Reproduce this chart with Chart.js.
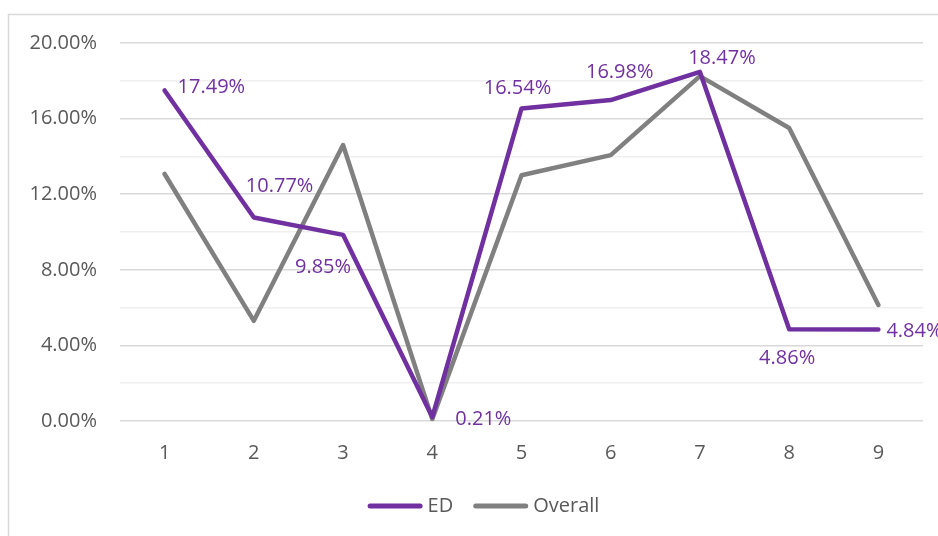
<!DOCTYPE html>
<html>
<head>
<meta charset="utf-8">
<script src="https://cdn.jsdelivr.net/npm/chart.js@4"></script>
<style>
html,body{margin:0;padding:0;background:#fff;}
#wrap{position:relative;width:938px;height:536px;}
</style>
</head>
<body>
<div id="wrap"><canvas id="c" width="938" height="536"></canvas></div>
<script>
const categories = ['1','2','3','4','5','6','7','8','9'];
const edValues = [17.49, 10.77, 9.85, 0.21, 16.54, 16.98, 18.47, 4.86, 4.84];
const overallValues = [13.07, 5.3, 14.6, 0.1, 13.0, 14.07, 18.25, 15.5, 6.14];
const seriesNames = ['ED', 'Overall'];

// label placement for the ED data labels: [dx, dy, align]
const edLabelPlacement = [
  [13, -3, 'left'], [-8, -31, 'left'], [8, 32, 'right'], [23, 2, 'left'],
  [-4, -20, 'center'], [9, -28, 'center'], [22, -14, 'center'], [-2, 29, 'center'], [8, 2, 'left']
];

const PURPLE = '#7030a0';
const GREY = '#808080';
const TEXT = '#595959';
const FONT = '"Open Sans", "Liberation Sans", sans-serif';

const borderPlugin = {
  id: 'outerBorder',
  beforeDraw(chart) {
    const ctx = chart.ctx;
    ctx.save();
    ctx.strokeStyle = '#d9d9d9';
    ctx.lineWidth = 1.5;
    ctx.strokeRect(8.5, 14.5, 2000, 2000);
    ctx.restore();
  }
};

const labelPlugin = {
  id: 'edLabels',
  afterDatasetsDraw(chart) {
    const meta = chart.getDatasetMeta(0);
    const ctx = chart.ctx;
    ctx.save();
    ctx.font = '20px ' + FONT;
    ctx.fillStyle = PURPLE;
    ctx.textBaseline = 'middle';
    meta.data.forEach((pt, i) => {
      const p = edLabelPlacement[i];
      ctx.textAlign = p[2];
      ctx.fillText(edValues[i].toFixed(2) + '%', pt.x + p[0], pt.y + p[1]);
    });
    ctx.restore();
  }
};

// custom legend drawn from the chart's datasets
const legendPlugin = {
  id: 'lineLegend',
  afterDraw(chart) {
    const ctx = chart.ctx;
    const lineLen = 55, gapText = 5, gapItem = 20, centerX = 483.5, y = 506;
    ctx.save();
    ctx.font = '20px ' + FONT;
    const items = chart.data.datasets.map(ds => ({ ds, tw: ctx.measureText(ds.label).width }));
    const total = items.reduce((s, it) => s + lineLen + gapText + it.tw, 0) + gapItem * (items.length - 1);
    let x = centerX - total / 2;
    items.forEach(it => {
      ctx.strokeStyle = it.ds.borderColor;
      ctx.lineWidth = 5;
      ctx.lineCap = 'round';
      ctx.beginPath();
      ctx.moveTo(x + 2.5, y);
      ctx.lineTo(x + lineLen - 2.5, y);
      ctx.stroke();
      ctx.fillStyle = TEXT;
      ctx.textAlign = 'left';
      ctx.textBaseline = 'middle';
      ctx.fillText(it.ds.label, x + lineLen + gapText, y);
      x += lineLen + gapText + it.tw + gapItem;
    });
    ctx.restore();
  }
};

new Chart(document.getElementById('c'), {
  type: 'line',
  data: {
    labels: categories,
    datasets: [
      { label: seriesNames[0], data: edValues, borderColor: PURPLE, backgroundColor: PURPLE,
        borderWidth: 4.5, pointRadius: 0, tension: 0, borderJoinStyle: 'round', borderCapStyle: 'round' },
      { label: seriesNames[1], data: overallValues, borderColor: GREY, backgroundColor: GREY,
        borderWidth: 4.5, pointRadius: 0, tension: 0, borderJoinStyle: 'round', borderCapStyle: 'round' }
    ]
  },
  options: {
    responsive: false,
    animation: false,
    devicePixelRatio: 1,
    layout: { padding: { top: 43, right: 15, left: 0, bottom: 50 } },
    plugins: {
      tooltip: { enabled: false },
      legend: { display: false }
    },
    scales: {
      x: {
        offset: true,
        grid: { display: false, drawTicks: false },
        border: { display: false },
        ticks: { color: TEXT, font: { family: FONT, size: 20 }, padding: 20, maxRotation: 0 },
        afterFit(scale) { scale.height = 65; }
      },
      y: {
        min: 0, max: 20,
        grid: {
          drawTicks: false,
          color: (c) => (c.tick && Math.round(c.tick.value) % 4 === 0) ? '#d9d9d9' : '#efefef',
          lineWidth: 1.5
        },
        border: { display: false },
        ticks: {
          stepSize: 2,
          padding: 23,
          color: TEXT,
          font: { family: FONT, size: 20 },
          callback: (v) => (Math.round(v) % 4 === 0) ? v.toFixed(2) + '%' : ''
        },
        afterFit(scale) { scale.width = 120; }
      }
    }
  },
  plugins: [borderPlugin, labelPlugin, legendPlugin]
});
</script>
</body>
</html>
